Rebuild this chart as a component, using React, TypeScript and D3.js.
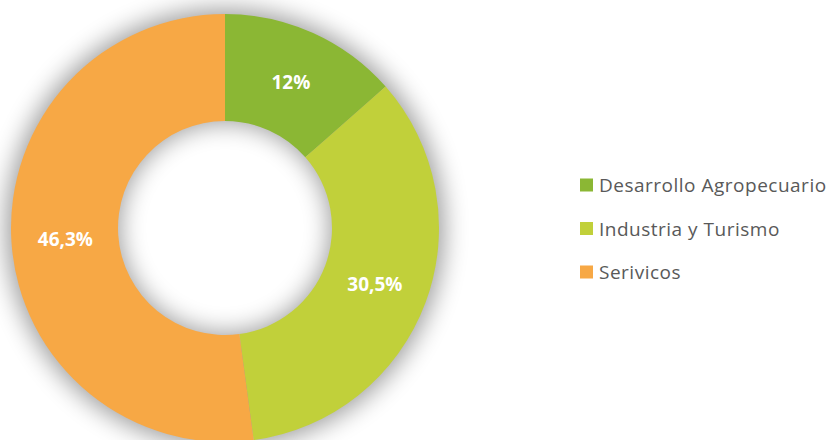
import React from "react";
import * as d3 from "d3";

const categories = ["Desarrollo Agropecuario", "Industria y Turismo", "Serivicos"];
const values = [12, 30.5, 46.3];
const labels = ["12%", "30,5%", "46,3%"];
const colors = ["#8BB734", "#C1D03A", "#F7A845"];

const W = 838;
const H = 440;

export default function App() {
  const cx = 225;
  const cy = 228;
  const outerR = 214;
  const innerR = 107;

  const pie = d3.pie<number>().sort(null).value((d) => d);
  const arcs = pie(values);
  const arc = d3.arc<d3.PieArcDatum<number>>().innerRadius(innerR).outerRadius(outerR);
  const labelArc = d3.arc<d3.PieArcDatum<number>>().innerRadius(160).outerRadius(160);
  const ring = d3.arc()({ innerRadius: innerR - 2, outerRadius: outerR + 5, startAngle: 0, endAngle: 2 * Math.PI }) as string;

  const legendY = d3.scalePoint<string>().domain(categories).range([185, 272]);

  return (
    <svg
      width={W}
      height={H}
      style={{ position: "absolute", left: 0, top: 0, display: "block", fontFamily: "'Open Sans', sans-serif" }}
    >
      <defs>
        <filter id="glow" filterUnits="userSpaceOnUse" x={-400} y={-400} width={800} height={800}>
          <feGaussianBlur stdDeviation="12" />
        </filter>
      </defs>
      <rect width={W} height={H} fill="#fff" />
      <g transform={`translate(${cx},${cy})`}>
        {/* soft shadow behind the ring */}
        <path d={ring} fill="#000" opacity={0.38} filter="url(#glow)" />
        {arcs.map((a, i) => (
          <path key={i} d={arc(a) as string} fill={colors[i]} />
        ))}
        {arcs.map((a, i) => {
          const [x, y] = labelArc.centroid(a);
          return (
            <text
              key={`l${i}`}
              x={x}
              y={y}
              textAnchor="middle"
              dominantBaseline="central"
              fontSize={19}
              fontWeight="bold"
              fill="#fff"
            >
              {labels[i]}
            </text>
          );
        })}
      </g>
      {categories.map((c, i) => (
        <g key={c} transform={`translate(580,${legendY(c)})`}>
          <rect x={0} y={-6.5} width={13} height={13} fill={colors[i]} />
          <text x={19} y={0} dominantBaseline="central" fontSize={19} letterSpacing={0.5} fill="#595959">
            {c}
          </text>
        </g>
      ))}
    </svg>
  );
}
